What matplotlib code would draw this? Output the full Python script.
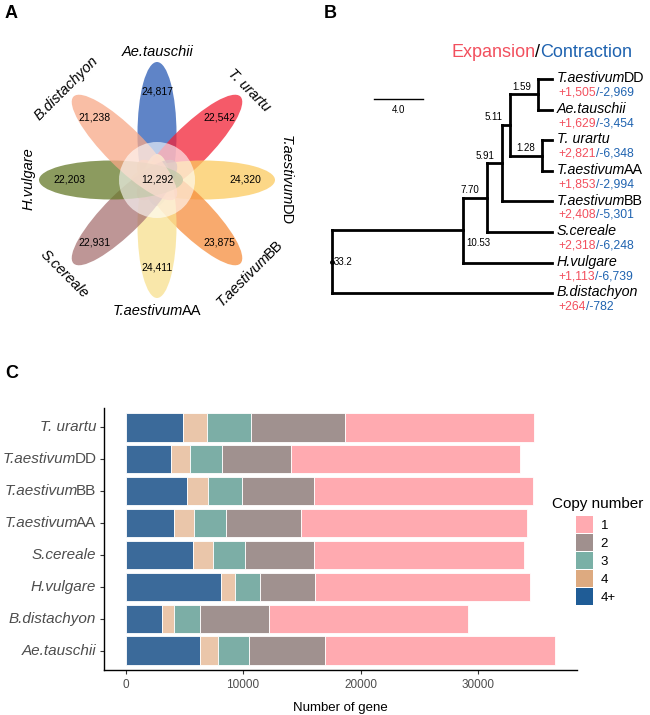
import numpy as np
import matplotlib
matplotlib.use("Agg")
import matplotlib.pyplot as plt
from matplotlib.patches import Ellipse, Circle, Patch

plt.rcParams['font.family'] = ['Liberation Sans', 'DejaVu Sans']

# ---- panel A: flower diagram ----
petal_names = ['Ae.tauschii', 'T. urartu', 'T.aestivumDD', 'T.aestivumBB',
               'T.aestivumAA', 'S.cereale', 'H.vulgare', 'B.distachyon']
petal_counts = [24817, 22542, 24320, 23875, 24411, 22931, 22203, 21238]
petal_colors = ['#2A5BB5', '#F22337', '#FBCA5F', '#F68E3E',
                '#F8E08E', '#A87373', '#667A2A', '#F8A887']
core_count = 12292

# ---- panel B: tree ----
tips = ['T.aestivumDD', 'Ae.tauschii', 'T. urartu', 'T.aestivumAA',
        'T.aestivumBB', 'S.cereale', 'H.vulgare', 'B.distachyon']
expansion = [1505, 1629, 2821, 1853, 2408, 2318, 1113, 264]
contraction = [2969, 3454, 6348, 2994, 5301, 6248, 6739, 782]
# node -> (children, drawn depth in scale-bar units, age label)
nodes = {
    'n1': (['T.aestivumDD', 'Ae.tauschii'], 1.14, '1.59'),
    'n2': (['T. urartu', 'T.aestivumAA'], 0.82, '1.28'),
    'n3': (['n1', 'n2'], 3.43, '5.11'),
    'n4': (['n3', 'T.aestivumBB'], 4.08, '5.91'),
    'n5': (['n4', 'S.cereale'], 5.31, '7.70'),
    'n6': (['n5', 'H.vulgare'], 7.27, '10.53'),
    'root': (['n6', 'B.distachyon'], 17.96, '33.2'),
}
scale_len = 4.0

# ---- panel C: copy number ----
species = ['T. urartu', 'T.aestivumDD', 'T.aestivumBB', 'T.aestivumAA',
           'S.cereale', 'H.vulgare', 'B.distachyon', 'Ae.tauschii']
copy_4plus = [4910, 3900, 5250, 4155, 5755, 8145, 3120, 6345]
copy_4 = [2025, 1600, 1800, 1685, 1685, 1205, 1035, 1545]
copy_3 = [3765, 2730, 2835, 2725, 2750, 2110, 2220, 2640]
copy_2 = [7980, 5840, 6125, 6345, 5820, 4660, 5870, 6430]
copy_1 = [16060, 19490, 18700, 19290, 17860, 18310, 16875, 19630]
copy_labels = ['4+', '4', '3', '2', '1']
bar_colors = ['#3B6A9A', '#EAC6AA', '#7CAEA6', '#A0918F', '#FFAAB0']
key_colors = ['#1F5C96', '#DDAA80', '#7AB0A6', '#A0908E', '#FFAAB0']

RED = '#F2505E'
BLUE = '#1F63B0'
KERN = 1.3  # points: italic bbox overhang before upright suffix


def split_name(name):
    # italic genus/species part + upright subgenome suffix
    if name.startswith('T.aestivum'):
        return [(name[:10], 'italic'), (name[10:], 'normal')]
    return [(name, 'italic')]


def chain_left(ax, x, y, parts, size, color='black', **kw):
    s, st = parts[0]
    t = ax.text(x, y, s, style=st, fontsize=size, color=color, ha='left', **kw)
    for s, st in parts[1:]:
        t = ax.annotate(s, xy=(1, 0), xycoords=t, xytext=(-KERN, 0),
                        textcoords='offset points', ha='left', va='bottom',
                        style=st, fontsize=size, color=color)
    return t


def two_tone(ax, x, y, parts, size, **kw):
    t = ax.text(x, y, parts[0][0], color=parts[0][1], fontsize=size, **kw)
    for s, c in parts[1:]:
        t = ax.annotate(s, xy=(1, 0), xycoords=t, ha='left', va='bottom',
                        color=c, fontsize=size)
    return t


fig = plt.figure(figsize=(6.5, 7.15), dpi=100)
renderer = fig.canvas.get_renderer()

# ================= A =================
ax_a = fig.add_axes([0, (715 - 315) / 715, 320 / 650, 315 / 715])
ax_a.set_xlim(0, 320)
ax_a.set_ylim(315, 0)
ax_a.axis('off')
cx, cy = 157, 180
angles = [90, 45, 0, -45, -90, -135, 180, 135]
for name, n, col, th in zip(petal_names, petal_counts, petal_colors, angles):
    r = np.deg2rad(th)
    ex, ey = cx + 46 * np.cos(r), cy - 46 * np.sin(r)
    ax_a.add_patch(Ellipse((ex, ey), 144, 39, angle=-th, facecolor=col,
                           alpha=0.75, edgecolor='none'))
ax_a.add_patch(Circle((cx, cy), 38, facecolor='white', alpha=0.6,
                      edgecolor='none'))
ax_a.text(cx, cy, f'{core_count:,}', ha='center', va='center', fontsize=7.5)


def width_px(s, size, st):
    t = ax_a.text(0, 0, s, fontsize=size, style=st)
    w = t.get_window_extent(renderer).width
    t.remove()
    if st == 'italic':
        w -= KERN * 100 / 72
    return w


for name, n, col, th in zip(petal_names, petal_counts, petal_colors, angles):
    r = np.deg2rad(th)
    ax_a.text(cx + 88 * np.cos(r), cy - 88 * np.sin(r), f'{n:,}',
              ha='center', va='center', fontsize=7.5)
    rot = th - 90 if 0 <= th <= 180 else th + 90
    parts = split_name(name)
    ws = [width_px(s, 10.5, st) for s, st in parts]
    dx, dy = np.cos(np.deg2rad(rot)), -np.sin(np.deg2rad(rot))
    px = cx + 130 * np.cos(r) - sum(ws) / 2 * dx
    py = cy - 130 * np.sin(r) - sum(ws) / 2 * dy
    for (s, st), w in zip(parts, ws):
        ax_a.text(px, py, s, style=st, ha='left', va='center_baseline',
                  rotation=rot, rotation_mode='anchor', fontsize=10.5)
        px += w * dx
        py += w * dy

# ================= B =================
ax_b = fig.add_axes([320 / 650, (715 - 315) / 715, 330 / 650, 315 / 715])
ax_b.set_xlim(18.94, -8.0)
ax_b.set_ylim(7.71, -2.58)
ax_b.axis('off')

ypos = {t: i for i, t in enumerate(tips)}
depth = {t: 0.0 for t in tips}


def node_y(k):
    if k not in ypos:
        ch = nodes[k][0]
        ypos[k] = np.mean([node_y(c) for c in ch])
        depth[k] = nodes[k][1]
    return ypos[k]


node_y('root')
lw = 2.0
for k, (ch, d, lab) in nodes.items():
    ys = [ypos[c] for c in ch]
    ax_b.plot([d, d], [min(ys), max(ys)], color='black', lw=lw,
              solid_capstyle='projecting')
    for c in ch:
        ax_b.plot([d, depth[c]], [ypos[c], ypos[c]], color='black', lw=lw,
                  solid_capstyle='projecting')
    if k == 'root':
        ax_b.plot(d, ypos[k], 'o', color='black', ms=2.5)
        ax_b.text(d - 0.15, ypos[k], lab, ha='left', va='center', fontsize=7)
    elif k == 'n6':
        ax_b.text(d - 0.3, ypos[k] + 0.42, lab, ha='left', va='center',
                  fontsize=7)
    else:
        ax_b.text(d + 0.6, ypos[k] - 0.08, lab, ha='right', va='bottom',
                  fontsize=7)

for t, e, c in zip(tips, expansion, contraction):
    chain_left(ax_b, -0.4, ypos[t] - 0.03, split_name(t), 10.3, va='center')
    two_tone(ax_b, -0.55, ypos[t] + 0.44,
             [(f'+{e:,}', RED), (f'/-{c:,}', BLUE)], 8.7, va='center')

ax_b.plot([14.53, 14.53 - scale_len], [0.65, 0.65], color='black', lw=1)
ax_b.text(14.53 - scale_len / 2, 1.0, f'{scale_len:.1f}', ha='center',
          va='center', fontsize=7)
two_tone(ax_b, 8.24, -0.85, [('Expansion', RED), ('/', 'black'),
                             ('Contraction', BLUE)], 13, va='center')

# ================= C =================
ax_c = fig.add_axes([104 / 650, (715 - 670) / 715, 473 / 650, 262 / 715])
yy = np.arange(len(species), 0, -1)
left = np.zeros(len(species))
for vals, col in zip([copy_4plus, copy_4, copy_3, copy_2, copy_1], bar_colors):
    ax_c.barh(yy, vals, left=left, height=0.9, color=col, edgecolor='white',
              linewidth=0.6)
    left += np.array(vals)
ax_c.set_ylim(0.4, 8.6)
ax_c.set_xlim(-1830, 38420)
ax_c.set_yticks(yy)
ax_c.set_yticklabels([])
ax_c.set_xticks([0, 10000, 20000, 30000])
ax_c.set_xticklabels(['0', '10000', '20000', '30000'], fontsize=8.5,
                     color='#4D4D4D')
ax_c.tick_params(length=3, color='#333333', width=0.8)
for s in ['top', 'right']:
    ax_c.spines[s].set_visible(False)
for s in ['left', 'bottom']:
    ax_c.spines[s].set_linewidth(1)
ax_c.set_xlabel('Number of gene', fontsize=9.5, labelpad=8)

ytr = ax_c.get_yaxis_transform()
for s_name, y in zip(species, yy):
    parts = split_name(s_name)[::-1]
    t = ax_c.annotate(parts[0][0], xy=(0, y), xycoords=ytr, xytext=(-5.5, 0),
                      textcoords='offset points', ha='right', va='center',
                      style=parts[0][1], fontsize=11, color='#4D4D4D')
    for s, st in parts[1:]:
        t = ax_c.annotate(s, xy=(0, 0), xycoords=t, xytext=(KERN, 0),
                          textcoords='offset points', ha='right', va='bottom',
                          style=st, fontsize=11, color='#4D4D4D')

handles = [Patch(facecolor=c, edgecolor='none') for c in key_colors[::-1]]
fig.text(552 / 650, 1 - 504 / 715, 'Copy number', fontsize=11, va='center')
fig.legend(handles, copy_labels[::-1],
           loc='upper left', bbox_to_anchor=(567 / 650, 1 - 507 / 715),
           frameon=False, fontsize=9.5,
           handlelength=1.3, handleheight=1.6, labelspacing=0.08,
           handletextpad=0.55, borderpad=0.2)

# panel letters
fig.text(5 / 650, 1 - 14 / 715, 'A', fontsize=13, fontweight='bold', va='center')
fig.text(324 / 650, 1 - 14 / 715, 'B', fontsize=13, fontweight='bold', va='center')
fig.text(5 / 650, 1 - 373 / 715, 'C', fontsize=13, fontweight='bold', va='center')

fig.savefig('out.png', dpi=100)
